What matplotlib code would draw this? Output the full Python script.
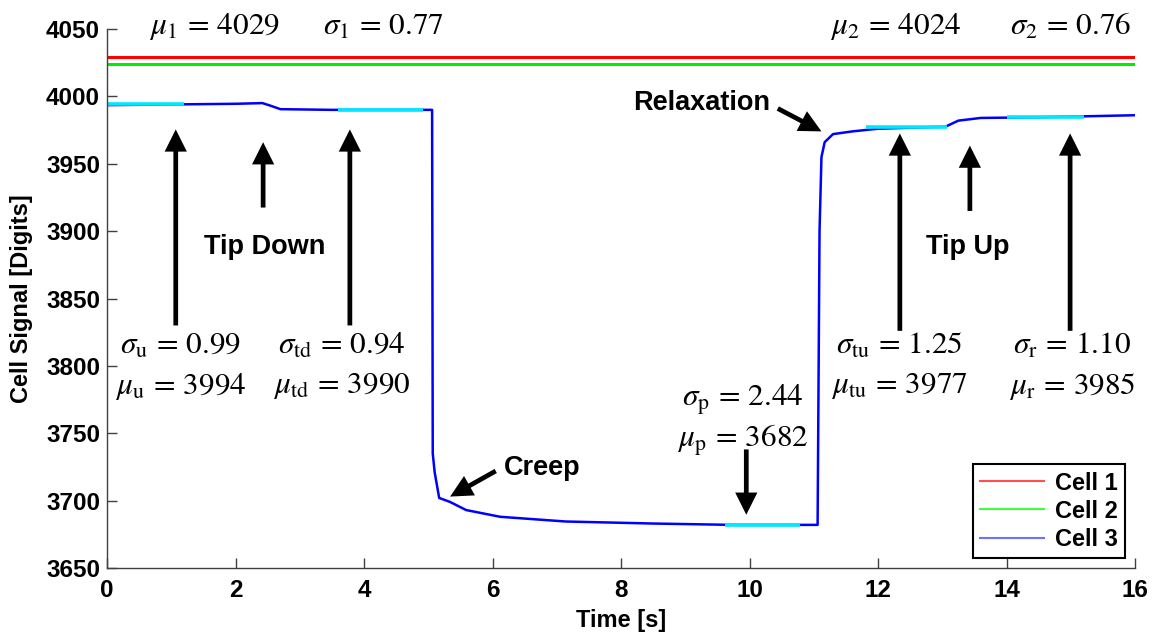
import matplotlib
matplotlib.use("Agg")
import matplotlib.pyplot as plt
from matplotlib.lines import Line2D

plt.rcParams['font.family'] = ['Liberation Sans', 'DejaVu Sans']
plt.rcParams['mathtext.fontset'] = 'stix'

# ---------------- data ----------------
time_c12 = [0.0, 16.0]
cell1 = [4029.0, 4029.0]
cell2 = [4024.0, 4024.0]

time_c3 = [0.0, 1.0, 2.0, 2.42, 2.55, 2.7, 3.5, 5.06, 5.07, 5.10, 5.17, 5.34,
           5.59, 6.12, 7.14, 8.5, 9.74, 11.06, 11.09, 11.12, 11.17, 11.3, 11.6,
           12.0, 13.05, 13.25, 13.6, 14.5, 16.0]
cell3 = [3993.5, 3994.0, 3994.5, 3995.0, 3993.0, 3990.5, 3990.0, 3990.0, 3735.0,
         3721.0, 3702.0, 3699.0, 3693.0, 3688.0, 3684.5, 3683.0, 3682.0, 3682.0,
         3900.0, 3955.0, 3966.0, 3972.0, 3974.0, 3976.0, 3977.5, 3982.0, 3984.0,
         3984.5, 3986.0]

# mean windows (start, end, mean)
win_start = [0.0, 3.6, 9.62, 11.82, 14.0]
win_end = [1.2, 4.92, 10.79, 13.07, 15.2]
win_mean = [3994, 3990, 3682, 3977, 3985]

# arrows: (x_tail, y_tail, x_tip, y_tip)
arrows = [
    (1.07, 3830, 1.07, 3975.5),
    (2.43, 3917.5, 2.43, 3966),
    (3.78, 3830, 3.78, 3975.5),
    (6.05, 3722, 5.34, 3703),
    (9.95, 3738, 9.95, 3689.5),
    (10.44, 3991, 11.12, 3974),
    (12.34, 3826, 12.34, 3972.5),
    (13.43, 3915, 13.43, 3963.5),
    (14.99, 3826, 14.99, 3972.5),
]

# statistics labels: (x, y, text)
stat_labels = [
    (1.67, 4051.5, r'$\mu_1\,=\,4029$'),
    (4.31, 4051.5, r'$\sigma_1\,=\,0.77$'),
    (12.28, 4051.5, r'$\mu_2\,=\,4024$'),
    (15.0, 4051.5, r'$\sigma_2\,=\,0.76$'),
    (1.15, 3815, r'$\sigma_\mathrm{u}\,=\,0.99$'),
    (1.15, 3785, r'$\mu_\mathrm{u}\,=\,3994$'),
    (3.66, 3815, r'$\sigma_\mathrm{td}\,=\,0.94$'),
    (3.66, 3785, r'$\mu_\mathrm{td}\,=\,3990$'),
    (9.9, 3775, r'$\sigma_\mathrm{p}\,=\,2.44$'),
    (9.9, 3745, r'$\mu_\mathrm{p}\,=\,3682$'),
    (12.34, 3815, r'$\sigma_\mathrm{tu}\,=\,1.25$'),
    (12.34, 3785, r'$\mu_\mathrm{tu}\,=\,3977$'),
    (15.02, 3815, r'$\sigma_\mathrm{r}\,=\,1.10$'),
    (15.02, 3785, r'$\mu_\mathrm{r}\,=\,3985$'),
]

# event labels
event_labels = [
    (2.46, 3888.5, 'Tip Down'),
    (13.4, 3888.5, 'Tip Up'),
    (6.77, 3724.5, 'Creep'),
    (9.25, 3995, 'Relaxation'),
]

xticks = [0, 2, 4, 6, 8, 10, 12, 14, 16]
yticks = [3650, 3700, 3750, 3800, 3850, 3900, 3950, 4000, 4050]

# ---------------- figure ----------------
fig = plt.figure(figsize=(11.53, 6.33), dpi=100)
ax = fig.add_axes([107/1153, 1 - 568/633, 1028/1153, 539/633])

ax.plot(time_c12, cell1, color='#ff0000', lw=2.2, label='Cell 1', solid_capstyle='butt')
ax.plot(time_c12, cell2, color='#00ee00', lw=2.2, label='Cell 2', solid_capstyle='butt')
ax.plot(time_c3, cell3, color='#0000ff', lw=1.8, label='Cell 3')
for s, e, m in zip(win_start, win_end, win_mean):
    ax.plot([s, e], [m, m], color='#00e8ff', lw=2.6, solid_capstyle='butt')

ax.set_xlim(0, 16)
ax.set_ylim(3650, 4050)
ax.set_xticks(xticks)
ax.set_yticks(yticks)
for sp in ['top', 'right']:
    ax.spines[sp].set_visible(False)
for sp in ['left', 'bottom']:
    ax.spines[sp].set_color('#404040')
    ax.spines[sp].set_linewidth(1.0)
ax.tick_params(direction='in', length=7, width=1.0, color='#404040',
               labelsize=17.5)
ax.tick_params(axis='x', pad=8)
ax.tick_params(axis='y', pad=5)
for lab in ax.get_xticklabels() + ax.get_yticklabels():
    lab.set_fontweight('bold')

ax.set_xlabel('Time [s]', fontsize=17, fontweight='bold')
ax.set_ylabel('Cell Signal [Digits]', fontsize=17, fontweight='bold')
ax.xaxis.set_label_coords(0.5, -0.076)
ax.yaxis.set_label_coords(-0.072, 0.5)

for xt, yt, xh, yh in arrows:
    ax.annotate('', xy=(xh, yh), xytext=(xt, yt),
                arrowprops=dict(arrowstyle='simple,head_length=1.6,head_width=1.6,tail_width=0.34',
                                color='black', lw=0, shrinkA=0, shrinkB=0,
                                mutation_scale=10))

for x, y, t in stat_labels:
    ax.text(x, y, t, fontsize=22.5, ha='center', va='center', clip_on=False)

for x, y, t in event_labels:
    ax.text(x, y, t, fontsize=19.5, fontweight='bold', ha='center', va='center')

handles = [Line2D([], [], color='#ff5050', lw=1.5),
           Line2D([], [], color='#40ff40', lw=1.5),
           Line2D([], [], color='#7070ff', lw=1.5)]
leg = ax.legend(handles, ['Cell 1', 'Cell 2', 'Cell 3'], loc='lower right',
                bbox_to_anchor=(0.990, 0.0186), fancybox=False, framealpha=1,
                edgecolor='black', handlelength=2.7, handletextpad=0.45,
                borderpad=0.3, labelspacing=0.22, borderaxespad=0,
                prop={'weight': 'bold', 'size': 17})
leg.get_frame().set_linewidth(1.5)

fig.savefig('out.png', dpi=100)
